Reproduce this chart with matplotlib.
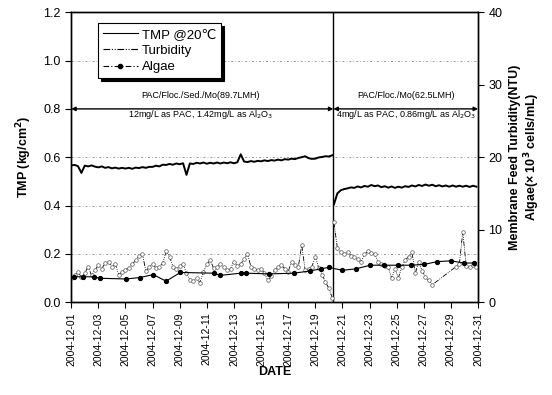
import numpy as np
import pandas as pd
import matplotlib
matplotlib.use('Agg')
import matplotlib.pyplot as plt
import matplotlib.dates as mdates
from matplotlib.lines import Line2D

plt.rcParams['font.family'] = ['Liberation Sans', 'DejaVu Sans']

# --- data ---
# period 1: 6-hourly samples from 2004-12-01 00:00
tmp_p1 = [0.566, 0.568, 0.563, 0.535, 0.565, 0.562, 0.566, 0.561,
          0.558, 0.562, 0.556, 0.559, 0.554, 0.557, 0.553, 0.556,
          0.553, 0.556, 0.552, 0.557, 0.555, 0.559, 0.556, 0.560,
          0.560, 0.565, 0.562, 0.569, 0.568, 0.572, 0.569, 0.574,
          0.571, 0.575, 0.527, 0.574, 0.572, 0.577, 0.574, 0.578,
          0.573, 0.577, 0.574, 0.578, 0.574, 0.578, 0.575, 0.579,
          0.575, 0.579, 0.612, 0.582, 0.580, 0.584, 0.581, 0.585,
          0.583, 0.587, 0.584, 0.588, 0.586, 0.590, 0.587, 0.592,
          0.590, 0.594, 0.592, 0.597, 0.600, 0.604, 0.596, 0.593,
          0.594, 0.599, 0.601, 0.604, 0.603, 0.608]
turb_p1 = [3.4, 3.8, 4.1, 3.5, 4.0, 4.9, 3.7, 4.4,
           5.1, 4.6, 5.4, 5.6, 4.9, 5.3, 3.8, 4.2,
           4.5, 4.7, 5.2, 5.8, 6.4, 6.7, 4.3, 4.8,
           5.3, 4.7, 4.9, 5.4, 7.0, 6.3, 4.9, 4.6,
           5.0, 5.3, 4.0, 3.1, 2.9, 3.3, 2.7, 4.2,
           5.2, 5.8, 4.7, 4.9, 5.3, 4.8, 4.4, 4.6,
           5.6, 5.0, 5.3, 5.9, 6.7, 4.9, 4.6, 4.4,
           4.6, 4.0, 3.0, 3.6, 4.4, 4.8, 5.1, 4.6,
           4.2, 5.6, 5.1, 4.9, 7.9, 4.4, 4.6, 4.9,
           6.3, 4.7, 3.8, 2.8, 1.9, 0.6]

# period 2: 6-hourly samples from 2004-12-20 09:00
tmp_p2 = [0.405, 0.450, 0.463, 0.468, 0.471, 0.475, 0.473, 0.479,
          0.475, 0.481, 0.478, 0.485, 0.480, 0.483, 0.476, 0.480,
          0.474, 0.479, 0.473, 0.478, 0.474, 0.480, 0.477, 0.483,
          0.479, 0.485, 0.481, 0.487, 0.482, 0.486, 0.480, 0.484,
          0.479, 0.483, 0.478, 0.483, 0.478, 0.482, 0.478, 0.482,
          0.477, 0.482, 0.478]
turb_p2 = [11.0, 7.5, 6.9, 6.7, 6.9, 6.4, 6.3, 5.9,
           5.6, 6.6, 7.0, 6.8, 6.6, 5.6, 5.3, 5.0,
           4.9, 3.3, 4.6, 3.4, 4.8, 5.8, 6.3, 6.9,
           4.0, 5.6, 4.3, 3.5, 3.0, 2.4, np.nan, np.nan,
           np.nan, np.nan, np.nan, np.nan, 4.9, 5.3, 9.7, 5.0,
           4.8, 5.1, 4.9]

# algae, grab samples (days after 2004-12-01)
algae_day = [0.2, 0.9, 1.65, 2.1, 4.05, 5.05, 6.05, 7.0, 8.05, 10.5,
             11.0, 12.5, 12.9, 14.6, 16.4, 17.6, 18.4, 19.0, 20.0, 21.0,
             22.05, 23.1, 24.1, 25.05, 26.0, 27.0, 28.0, 29.0, 29.7]
algae = [3.5, 3.5, 3.5, 3.3, 3.2, 3.4, 3.8, 2.9, 4.1, 4.0,
         3.7, 4.0, 4.0, 3.9, 4.0, 4.3, 4.6, 4.8, 4.4, 4.6,
         5.1, 5.1, 5.1, 5.1, 5.2, 5.6, 5.7, 5.4, 5.4]

switch_time = pd.Timestamp('2004-12-20 08:00')
x_ticks = pd.date_range('2004-12-01', '2004-12-31', freq='2D')

t1 = pd.date_range('2004-12-01 00:00', periods=len(tmp_p1), freq='6h')
t2 = pd.date_range('2004-12-20 09:00', periods=len(tmp_p2), freq='6h')
ta = pd.Timestamp('2004-12-01') + pd.to_timedelta(algae_day, unit='D')

fig = plt.figure(figsize=(5.52, 3.95), dpi=100)
ax = fig.add_axes([0.129, 0.235, 0.737, 0.734])
ax2 = ax.twinx()

grid_ls = (0, (3, 3, 1, 3))
for y in [0.2, 0.4, 0.6, 1.0]:
    ax.axhline(y, color='0.45', lw=0.5, ls=grid_ls, zorder=0)

ax.plot(t1, tmp_p1, color='black', lw=1.4)
ax.plot(t2, tmp_p2, color='black', lw=1.4)

turb_ls = (0, (6, 1.5, 1, 1.5, 1, 1.5))
for t, v in [(t1, turb_p1), (t2, turb_p2)]:
    v = np.array(v, dtype=float)
    ok = ~np.isnan(v)
    ax2.plot(t[ok], v[ok], color='black', lw=0.6, ls=turb_ls,
             marker='o', ms=2.6, mfc='white', mec='0.35', mew=0.5)
ax2.plot(ta, algae, color='black', lw=0.8, ls='-',
         marker='o', ms=2.8, mfc='black', mec='black')

ax.axvline(switch_time, color='black', lw=1.0)

# treatment period arrows and notes
x0 = pd.Timestamp('2004-12-01')
x1 = pd.Timestamp('2004-12-31')
arrow = dict(arrowstyle='<|-|>', color='black', lw=1.0,
             mutation_scale=6, shrinkA=0, shrinkB=0)
ax.annotate('', xy=(x0, 0.8), xytext=(switch_time, 0.8), arrowprops=arrow)
ax.annotate('', xy=(switch_time, 0.8), xytext=(x1, 0.8), arrowprops=arrow)
mid1 = pd.Timestamp('2004-12-10 12:00')
mid2 = pd.Timestamp('2004-12-25 16:00')
ax.text(mid1, 0.835, 'PAC/Floc./Sed./Mo(89.7LMH)', ha='center', va='bottom', fontsize=6.5)
ax.text(mid1, 0.775, '12mg/L as PAC, 1.42mg/L as Al$_2$O$_3$', ha='center', va='center', fontsize=6.5)
ax.text(mid2, 0.835, 'PAC/Floc./Mo(62.5LMH)', ha='center', va='bottom', fontsize=6.5)
ax.text(mid2, 0.775, '4mg/L as PAC, 0.86mg/L as Al$_2$O$_3$', ha='center', va='center', fontsize=6.5)

ax.set_xlim(x0, x1)
ax.set_ylim(0, 1.2)
ax2.set_ylim(0, 40)
ax.set_yticks([0.0, 0.2, 0.4, 0.6, 0.8, 1.0, 1.2])
ax2.set_yticks([0, 10, 20, 30, 40])
ax.set_xticks(x_ticks)
ax.xaxis.set_major_formatter(mdates.DateFormatter('%Y-%m-%d'))
ax.tick_params(axis='x', labelrotation=90, labelsize=7.5, direction='out', length=4)
ax.tick_params(axis='y', labelsize=9, direction='out', length=4)
ax2.tick_params(axis='y', labelsize=9, direction='out', length=4)
for a in (ax, ax2):
    for s in a.spines.values():
        s.set_linewidth(1.0)

ax.set_xlabel('DATE', fontsize=9, fontweight='bold', labelpad=0)
ax.set_ylabel('TMP (kg/cm$^\\mathbf{2}$)', fontsize=9, fontweight='bold', labelpad=7)
ax2.set_ylabel('Membrane Feed Turbidity(NTU)\nAlgae(\u00d7 10$^\\mathbf{3}$ cells/mL)',
               fontsize=9, fontweight='bold', labelpad=5, linespacing=1.05)

handles = [
    Line2D([], [], color='black', lw=0.8),
    Line2D([], [], color='black', lw=0.8, ls=turb_ls),
    Line2D([], [], color='black', lw=0.8, ls=(0, (5, 2, 1, 2)), marker='o', ms=3, markevery=[1]),
]
leg = ax2.legend(handles, ['TMP @20\u2103', 'Turbidity', 'Algae'],
                 loc='upper left', bbox_to_anchor=(0.066, 0.962),
                 fontsize=9.5, frameon=True, fancybox=False,
                 shadow={'color': 'black', 'alpha': 1},
                 edgecolor='black', handlelength=2.6, labelspacing=0.3,
                 borderpad=0.4, handletextpad=0.3, borderaxespad=0)
leg.get_frame().set_linewidth(0.8)
leg.get_frame().set_alpha(1)

fig.savefig('out.png', dpi=100)
